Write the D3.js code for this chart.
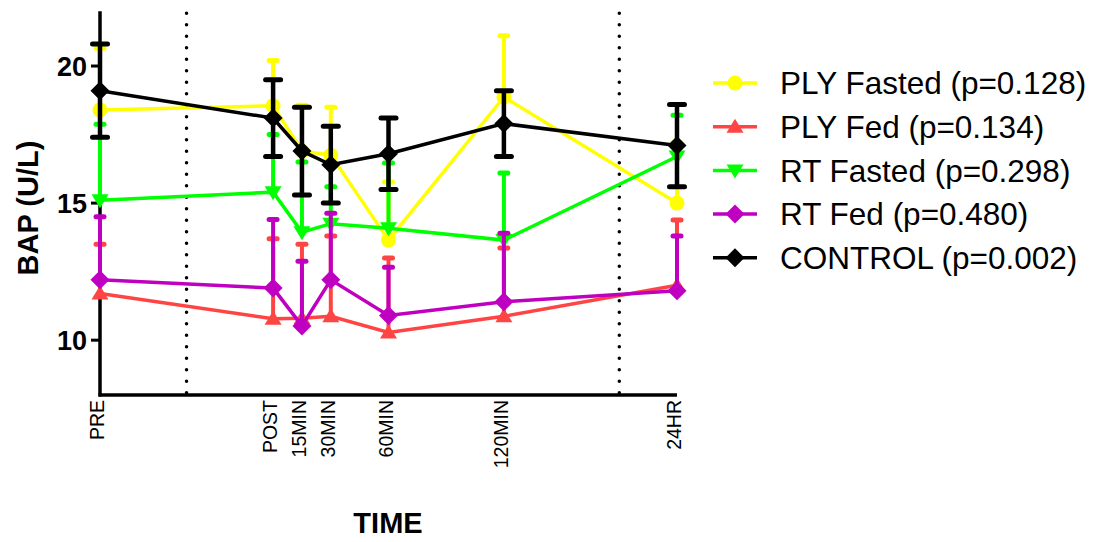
<!DOCTYPE html>
<html>
<head>
<meta charset="utf-8">
<script src="https://d3js.org/d3.v7.min.js"></script>
<style>
  body { margin: 0; background: #fff; }
  svg { font-family: "Liberation Sans", Arial, sans-serif; }
</style>
</head>
<body>
<script>
// time points on a custom (broken) axis, in 15-min units from POST
var timeLabels = ["PRE", "POST", "15MIN", "30MIN", "60MIN", "120MIN", "24HR"];
var timePos = [-6, 0, 1, 2, 4, 8, 14];
var breakPos = [-3, 12];
var yTicks = [10, 15, 20];

// series values
var plyFastedMean  = [18.4, 18.55, 16.9, 16.75, 13.65, 18.87, 15.0];
var plyFastedUpper = [20.65, 20.2, 18.57, 18.5, 15.77, 21.1, 17.2];

var plyFedMean  = [11.7, 10.78, 10.8, 10.87, 10.28, 10.87, 12.0];
var plyFedUpper = [13.5, 13.7, 13.5, 13.8, 13.0, 13.36, 14.38];

var rtFastedMean  = [15.1, 15.4, 13.94, 14.25, 14.08, 13.65, 16.7];
var rtFastedUpper = [17.88, 17.5, 16.5, 15.6, 16.46, 16.1, 18.2];

var rtFedMean  = [12.2, 11.9, 10.52, 12.2, 10.9, 11.4, 11.8];
var rtFedUpper = [14.5, 14.4, 12.88, 14.63, 12.66, 13.9, 13.8];

var controlMean  = [19.1, 18.1, 16.9, 16.4, 16.8, 17.9, 17.1];
var controlUpper = [20.8, 19.5, 18.5, 17.8, 18.1, 19.1, 18.6];
var controlLower = [17.4, 16.7, 15.3, 15.0, 15.5, 16.7, 15.6];

var series = [
  { name: "PLY Fasted (p=0.128)", color: "#ffff00", shape: "circle",  mean: plyFastedMean, upper: plyFastedUpper, lower: null, cap: 13 },
  { name: "PLY Fed (p=0.134)",    color: "#ff4444", shape: "triUp",   mean: plyFedMean,    upper: plyFedUpper,    lower: null, cap: 13 },
  { name: "RT Fasted (p=0.298)",  color: "#00ff00", shape: "triDown", mean: rtFastedMean,  upper: rtFastedUpper,  lower: null, cap: 13 },
  { name: "RT Fed (p=0.480)",     color: "#c000c0", shape: "diamond", mean: rtFedMean,     upper: rtFedUpper,     lower: null, cap: 13 },
  { name: "CONTROL (p=0.002)",    color: "#000000", shape: "diamond", mean: controlMean,   upper: controlUpper,   lower: controlLower, cap: 20 }
];

var width = 1094, height = 542;

var svg = d3.select("body").append("svg")
  .attr("width", width)
  .attr("height", height);

var x = d3.scaleLinear().domain([-6, 14]).range([100, 677]);
var y = d3.scaleLinear().domain([8, 22]).range([395, 11.2]);

function markerPath(shape) {
  if (shape == "circle") return d3.symbol().type(d3.symbolCircle).size(Math.PI * 7.5 * 7.5)();
  if (shape == "triUp") return "M0,-8L8.5,6L-8.5,6Z";
  if (shape == "triDown") return "M0,8L8.5,-6L-8.5,-6Z";
  return "M0,-9.5L9.5,0L0,9.5L-9.5,0Z";
}

// dotted break lines
svg.selectAll(".break")
  .data(breakPos)
  .enter()
  .append("line")
  .attr("x1", d => x(d)).attr("x2", d => x(d))
  .attr("y1", y(22) + 2).attr("y2", y(8))
  .attr("stroke", "#000")
  .attr("stroke-width", 3.5)
  .attr("stroke-linecap", "round")
  .attr("stroke-dasharray", "0 11.5");

// axes
svg.append("line")
  .attr("x1", x(-6)).attr("x2", x(-6))
  .attr("y1", y(22)).attr("y2", y(8) + 1.5)
  .attr("stroke", "#000").attr("stroke-width", 3.5);

svg.append("line")
  .attr("x1", x(-6) - 1.5).attr("x2", x(14))
  .attr("y1", y(8)).attr("y2", y(8))
  .attr("stroke", "#000").attr("stroke-width", 3.5);

svg.selectAll(".ytick")
  .data(yTicks)
  .enter()
  .append("line")
  .attr("x1", x(-6) - 9).attr("x2", x(-6))
  .attr("y1", d => y(d)).attr("y2", d => y(d))
  .attr("stroke", "#000").attr("stroke-width", 3);

svg.selectAll(".ylabel")
  .data(yTicks)
  .enter()
  .append("text")
  .attr("x", x(-6) - 13)
  .attr("y", d => y(d))
  .attr("dy", "0.36em")
  .attr("text-anchor", "end")
  .attr("font-size", 27)
  .attr("font-weight", "bold")
  .text(d => d);

svg.selectAll(".xlabel")
  .data(timeLabels)
  .enter()
  .append("text")
  .attr("transform", (d, i) => `translate(${x(timePos[i]) + 4}, 400) rotate(-90)`)
  .attr("text-anchor", "end")
  .attr("font-size", 19.5)
  .text(d => d);

svg.append("text")
  .attr("transform", "translate(38, 208) rotate(-90)")
  .attr("text-anchor", "middle")
  .attr("font-size", 29)
  .attr("font-weight", "bold")
  .text("BAP (U/L)");

svg.append("text")
  .attr("x", 388)
  .attr("y", 533)
  .attr("text-anchor", "middle")
  .attr("font-size", 29)
  .attr("font-weight", "bold")
  .text("TIME");

// series: error bars, line, markers
var line = d3.line()
  .x(d => x(d.t))
  .y(d => y(d.v));

series.forEach(function(s) {
  var pts = s.mean.map((v, i) => ({ t: timePos[i], v: v, up: s.upper[i], lo: s.lower ? s.lower[i] : v }));
  var g = svg.append("g");
  var bw = s.color == "#000000" ? 4.5 : 4;

  g.selectAll(".bar")
    .data(pts)
    .enter()
    .append("line")
    .attr("x1", d => x(d.t)).attr("x2", d => x(d.t))
    .attr("y1", d => y(d.up)).attr("y2", d => y(d.lo))
    .attr("stroke", s.color).attr("stroke-width", bw);

  var caps = [];
  pts.forEach(function(d) {
    caps.push({ t: d.t, v: d.up });
    if (s.lower) caps.push({ t: d.t, v: d.lo });
  });
  g.selectAll(".cap")
    .data(caps)
    .enter()
    .append("line")
    .attr("x1", d => x(d.t) - s.cap / 2 + 2.5).attr("x2", d => x(d.t) + s.cap / 2 - 2.5)
    .attr("y1", d => y(d.v)).attr("y2", d => y(d.v))
    .attr("stroke", s.color).attr("stroke-width", 5)
    .attr("stroke-linecap", "round");

  g.append("path")
    .datum(pts)
    .attr("d", line)
    .attr("fill", "none")
    .attr("stroke", s.color)
    .attr("stroke-width", 3.5);

  g.selectAll(".mark")
    .data(pts)
    .enter()
    .append("path")
    .attr("transform", d => `translate(${x(d.t)},${y(d.v)})`)
    .attr("d", markerPath(s.shape))
    .attr("fill", s.color);
});

// legend
var legend = svg.append("g")
  .selectAll(".legends")
  .data(series)
  .enter()
  .append("g")
  .attr("transform", (d, i) => `translate(0, ${83 + i * 43.7})`);

legend.append("line")
  .attr("x1", 713).attr("x2", 757)
  .attr("stroke", d => d.color)
  .attr("stroke-width", 3.5);

legend.append("path")
  .attr("transform", "translate(735,0)")
  .attr("d", d => markerPath(d.shape))
  .attr("fill", d => d.color);

legend.append("text")
  .attr("x", 780)
  .attr("dy", "0.36em")
  .attr("font-size", 31.5)
  .text(d => d.name);
</script>
</body>
</html>
